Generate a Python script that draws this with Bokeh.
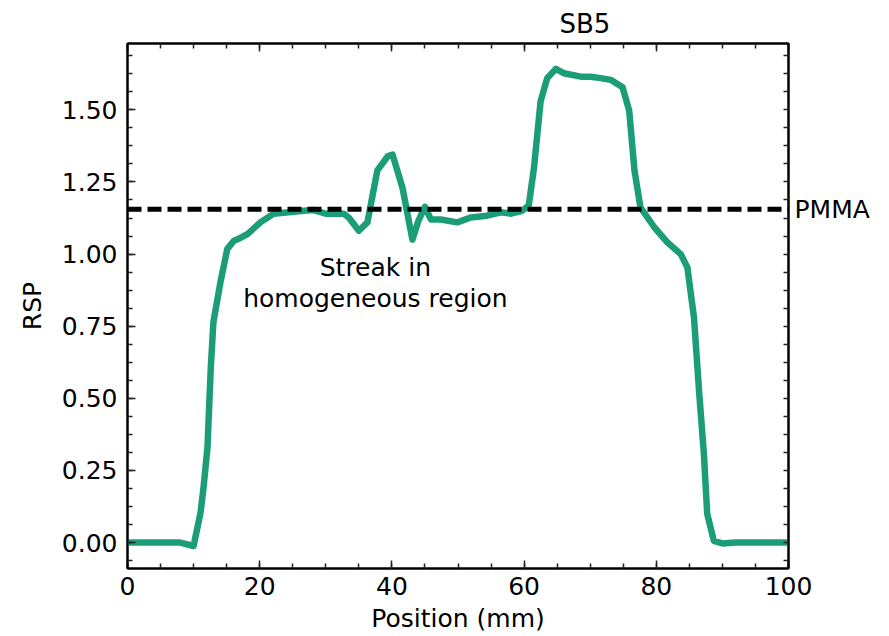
from bokeh.plotting import figure
from bokeh.models import (SingleIntervalTicker, FixedTicker, LinearAxis, Range1d,
                          Label, NumeralTickFormatter)
from bokeh.embed import file_html
from bokeh.resources import INLINE

# ---- data ----
position = [0, 2, 4, 6, 8, 10, 11.05, 11.5, 12.1, 12.6, 13.0, 14.1, 15.1, 16.1,
            17.0, 18.2, 20.1, 22.1, 25.1, 28.0, 30.0, 32.7, 33.5, 35.0, 36.3,
            37.8, 39.4, 40.1, 41.6, 43.1, 44.0, 45.0, 45.9, 47.4, 49.9, 51.9,
            54.4, 56.5, 58.0, 59.7, 60.7, 61.5, 62.5, 63.5, 64.8, 66.0, 68.6,
            70.1, 71.6, 73.1, 74.9, 75.9, 76.7, 77.6, 79.7, 81.7, 83.7, 84.7,
            85.7, 86.5, 87.2, 87.7, 88.7, 90.0, 92, 95, 100]
rsp = [0.0, 0.0, 0.0, 0.0, 0.0, -0.012, 0.104, 0.19, 0.33, 0.607, 0.765, 0.907,
       1.018, 1.046, 1.055, 1.07, 1.11, 1.14, 1.147, 1.153, 1.14, 1.14, 1.126,
       1.081, 1.11, 1.29, 1.34, 1.345, 1.23, 1.05, 1.115, 1.164, 1.12, 1.12,
       1.11, 1.127, 1.133, 1.145, 1.14, 1.15, 1.168, 1.30, 1.53, 1.61, 1.642,
       1.627, 1.615, 1.615, 1.61, 1.604, 1.578, 1.497, 1.29, 1.162, 1.093,
       1.04, 1.0, 0.954, 0.78, 0.515, 0.307, 0.10, 0.006, -0.003, 0.0, 0.0, 0.0]
pmma_rsp = 1.155
pmma_label = "PMMA"
title_text = "SB5"
annotation_lines = ["Streak in", "homogeneous region"]
x_label = "Position (mm)"
y_label = "RSP"

FONT = "DejaVu Sans"
FS = "25px"
LINE_GREEN = "#1b9e77"

p = figure(width=889, height=636, output_backend="svg", toolbar_location=None,
           x_range=Range1d(0, 100), y_range=Range1d(-0.09, 1.73),
           min_border_left=127, min_border_right=101, min_border_top=43,
           min_border_bottom=68)
p.background_fill_color = "white"
p.border_fill_color = "white"
p.outline_line_color = "black"
p.outline_line_width = 2
p.xgrid.visible = False
p.ygrid.visible = False

p.title.text = title_text
p.title.align = "left"
p.title.offset = 432
p.title.text_font = FONT
p.title.text_font_size = "26px"
p.title.text_font_style = "normal"
p.title.text_color = "black"
p.title.standoff = 9


def style_axis(ax, show_labels):
    ax.axis_line_color = "black"
    ax.axis_line_width = 2
    ax.major_tick_in = 8
    ax.major_tick_out = 0
    ax.minor_tick_in = 5
    ax.minor_tick_out = 0
    ax.major_tick_line_color = "#222222"
    ax.minor_tick_line_color = "#222222"
    ax.major_tick_line_width = 1.5
    ax.minor_tick_line_width = 1.5
    ax.major_label_text_font = FONT
    ax.major_label_text_font_size = FS
    ax.major_label_text_color = "black" if show_labels else None
    ax.axis_label_text_font = FONT
    ax.axis_label_text_font_size = FS
    ax.axis_label_text_font_style = "normal"
    ax.axis_label_text_color = "black"


p.xaxis.ticker = SingleIntervalTicker(interval=20, num_minor_ticks=4)
p.yaxis.ticker = SingleIntervalTicker(interval=0.25, num_minor_ticks=4)
p.yaxis.formatter = NumeralTickFormatter(format="0.00")
p.xaxis.axis_label = x_label
p.yaxis.axis_label = y_label
style_axis(p.xaxis[0], True)
style_axis(p.yaxis[0], True)
p.xaxis.major_label_standoff = 8
p.yaxis.major_label_standoff = 10
p.xaxis.axis_label_standoff = 6
p.yaxis.axis_label_standoff = 12

# top axis: ticks only
top_ax = LinearAxis(ticker=SingleIntervalTicker(interval=20, num_minor_ticks=4))
style_axis(top_ax, False)
top_ax.major_label_text_font_size = "1px"
top_ax.major_label_standoff = 0
p.add_layout(top_ax, "above")

# right axis: short ticks every 0.0625, single labelled reference value (PMMA)
minor_step = 0.0625
right_minor = [k * minor_step for k in range(-1, 28)]
right_ax = LinearAxis(ticker=FixedTicker(ticks=[pmma_rsp], minor_ticks=right_minor))
style_axis(right_ax, True)
right_ax.major_tick_line_color = None
right_ax.major_tick_in = 0
right_ax.major_label_standoff = 6
right_ax.major_label_overrides = {pmma_rsp: pmma_label}
p.add_layout(right_ax, "right")

p.line(position, rsp, line_color=LINE_GREEN, line_width=6.5, line_join="round",
       line_cap="round")
p.line([0, 100], [pmma_rsp, pmma_rsp], line_color="black", line_width=5,
       line_dash="14 6")

p.add_layout(Label(x=37.5, y=0.953, text=annotation_lines[0], text_font=FONT,
                   text_font_size=FS, text_baseline="alphabetic", text_align="center",
                   text_color="black"))
p.add_layout(Label(x=37.5, y=0.845, text=annotation_lines[1], text_font=FONT,
                   text_font_size=FS, text_baseline="alphabetic", text_align="center",
                   text_color="black"))

open("out.html", "w").write(file_html(p, INLINE))
